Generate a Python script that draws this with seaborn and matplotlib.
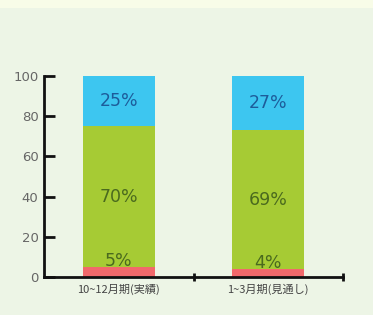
import pandas as pd
import seaborn as sns
import numpy as np
import matplotlib.pyplot as plt
from matplotlib.patches import Rectangle

# data
periods = ["10~12月期(実績)", "1~3月期(見通し)"]
bottom_pct = [5, 4]     # red
middle_pct = [70, 69]   # green
top_pct = [25, 27]      # blue

seg_colors = ["#f2696b", "#a6cb34", "#3dc6f0"]
text_colors = ["#4a6a1e", "#4a6a1e", "#1d5c9a"]

sns.set_style("white")
plt.rcParams['font.family'] = ['Noto Sans CJK JP', 'DejaVu Sans']

fig = plt.figure(figsize=(3.73, 3.15), dpi=100)
fig.patch.set_facecolor("#edf5e6")
fig.patches.append(Rectangle((0, 1 - 8 / 315), 1, 8 / 315, transform=fig.transFigure,
                             facecolor="#f8fce8", edgecolor="none", zorder=0))
ax = fig.add_axes([44 / 373, 1 - 277 / 315, 299 / 373, 201 / 315])
ax.set_facecolor("none")

df = pd.DataFrame({"period": periods, "low": bottom_pct,
                   "mid": middle_pct, "high": top_pct})
df["c1"] = df["low"]
df["c2"] = df["low"] + df["mid"]
df["c3"] = df["c2"] + df["high"]

# draw cumulative totals from tallest to shortest so they stack visually
for col, color in zip(["c3", "c2", "c1"], seg_colors[::-1]):
    sns.barplot(data=df, x="period", y=col, color=color, width=0.48,
                saturation=1, linewidth=0, ax=ax, zorder=2)

# percentage labels
for i in range(len(periods)):
    low, mid, high = bottom_pct[i], middle_pct[i], top_pct[i]
    ax.text(i, low + 2.8, f"{low}%", ha="center", va="center",
            fontsize=12.5, color=text_colors[0], family="DejaVu Sans", zorder=3)
    ax.text(i, low + mid / 2, f"{mid}%", ha="center", va="center",
            fontsize=12.5, color=text_colors[1], family="DejaVu Sans", zorder=3)
    ax.text(i, low + mid + high / 2, f"{high}%", ha="center", va="center",
            fontsize=12.5, color=text_colors[2], family="DejaVu Sans", zorder=3)

ax.set_xlim(-0.5, 1.5)
ax.set_ylim(0, 100)
ax.set_yticks([0, 20, 40, 60, 80, 100])
ax.set_xlabel("")
ax.set_ylabel("")

sns.despine(ax=ax)
for s in ["left", "bottom"]:
    ax.spines[s].set_linewidth(2)
    ax.spines[s].set_color("#111111")
    ax.spines[s].set_zorder(4)

ax.tick_params(axis="y", left=True, direction="in", length=8, width=2,
               color="#111111", labelsize=9.5, labelcolor="#666666", pad=4)
for lab in ax.get_yticklabels():
    lab.set_family("DejaVu Sans")
ax.tick_params(axis="x", length=0, labelsize=8, labelcolor="#444444", pad=5)
ax.set_xticks([0.5, 1.5], minor=True)
ax.tick_params(axis="x", which="minor", bottom=True, direction="inout",
               length=6, width=2, color="#111111")

fig.savefig("out.png", dpi=100, facecolor=fig.get_facecolor())
